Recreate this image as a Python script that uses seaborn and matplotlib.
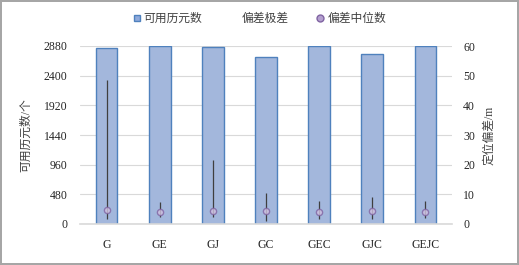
import numpy as np
import matplotlib
matplotlib.use("Agg")
import matplotlib.pyplot as plt
import pandas as pd
import seaborn as sns
from matplotlib.lines import Line2D

sns.set_style("white")
plt.rcParams["font.family"] = ["Liberation Serif", "Noto Sans CJK SC"]
plt.rcParams["font.size"] = 8.5

# data
systems = ["G", "GE", "GJ", "GC", "GEC", "GJC", "GEJC"]
epochs = [2852, 2878, 2864, 2697, 2872, 2746, 2878]          # 可用历元数
err_max = [48.5, 7.5, 21.5, 10.3, 7.8, 9.1, 7.8]             # 偏差上限 (m)
err_min = [1.6, 2.3, 2.3, 1.1, 1.6, 1.6, 1.9]                # 偏差下限 (m)
err_med = [4.6, 4.0, 4.5, 4.5, 4.1, 4.5, 4.0]                # 偏差中位数 (m)

df = pd.DataFrame({"sys": systems, "epochs": epochs})

fig = plt.figure(figsize=(5.19, 2.65), dpi=100)
fig.patch.set_edgecolor("#a6a6a6")
fig.patch.set_linewidth(1.5)
ax1 = fig.add_axes([80/519, 1-224/265, (452-80)/519, (224-46)/265])

sns.barplot(data=df, x="sys", y="epochs", order=systems, color="#a3b7dc",
            edgecolor="#4f81bd", linewidth=1.0, width=0.41, saturation=1, ax=ax1)
ax1.set_ylim(0, 2880)
ax1.set_yticks(np.arange(0, 2881, 480))
ax1.set_xlim(-0.5, len(systems)-0.5)
ax1.yaxis.grid(True, color="#d9d9d9", linewidth=0.8)
ax1.set_axisbelow(True)
ax1.set_xlabel("")
ax1.set_ylabel("可用历元数/个", fontsize=8.5, labelpad=8, color="#404040")
ax1.tick_params(axis="y", length=0, pad=9)
ax1.tick_params(axis="x", length=0, pad=11)
for s in ["top", "right", "left"]:
    ax1.spines[s].set_visible(False)
ax1.spines["bottom"].set_color("#d9d9d9")
ax1.spines["bottom"].set_linewidth(1.2)

ax2 = ax1.twinx()
pos = np.arange(len(systems))
ax2.vlines(pos, err_min, err_max, color="#3f3f3f", linewidth=0.9)
sns.scatterplot(x=pos, y=err_med, marker="o", s=20, color="#d2c3e2",
                edgecolor="#8064a2", linewidth=1.0, alpha=0.8, ax=ax2, zorder=3)
ax2.set_ylim(0, 60)
ax2.set_yticks(np.arange(0, 61, 10))
ax2.set_ylabel("定位偏差/m", fontsize=8.5, labelpad=6, color="#404040")
ax2.tick_params(axis="y", length=0, pad=8)
for s in ["top", "right", "left", "bottom"]:
    ax2.spines[s].set_visible(False)

handles = [
    Line2D([], [], linestyle="none", marker="s", markersize=5,
           markerfacecolor="#8faadc", markeredgecolor="#4f81bd"),
    Line2D([], [], linestyle="none"),
    Line2D([], [], linestyle="none", marker="o", markersize=5,
           markerfacecolor="#b4a0cf", markeredgecolor="#8064a2"),
]
leg = fig.legend(handles, ["可用历元数", "偏差极差", "偏差中位数"], loc="center",
                 bbox_to_anchor=(0.5, 1-19/265), ncol=3, frameon=False,
                 fontsize=8.5, handlelength=0.6, handletextpad=0.3, columnspacing=2.4)
for t in leg.get_texts():
    t.set_color("#404040")

fig.savefig("out.png", dpi=100)
